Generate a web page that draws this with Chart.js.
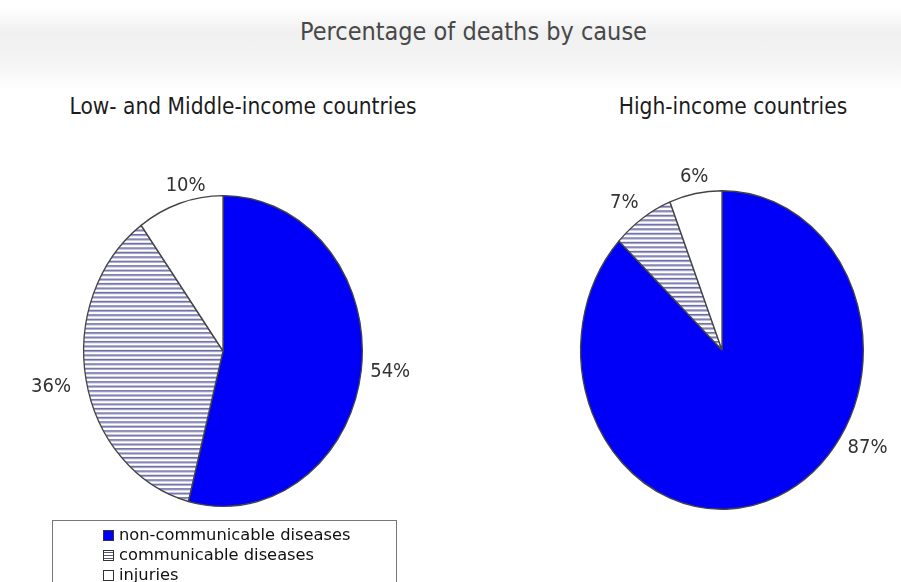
<!DOCTYPE html>
<html lang="en">
<head>
<meta charset="UTF-8">
<title>Percentage of deaths by cause</title>
<script src="https://cdn.jsdelivr.net/npm/chart.js"></script>
<style>
  body { margin: 0; width: 901px; height: 582px; overflow: hidden; background: #fff; position: relative;
         font-family: "DejaVu Sans Condensed", "DejaVu Sans", sans-serif; }
  .band { position: absolute; left: 0; top: 8px; width: 901px; height: 82px;
          background: linear-gradient(to bottom, rgba(255,255,255,0), #f0f0f0 30%, #f5f5f5 70%, rgba(255,255,255,0)); }
  h1 { position: absolute; top: 17px; left: 23px; width: 901px; margin: 0; text-align: center;
       font-weight: normal; font-size: 25px; color: #484848; }
  .sub { position: absolute; top: 93px; width: 460px; margin-left: -230px; text-align: center; font-size: 22.5px; color: #1c1c1c; }
  .pie { position: absolute; }
  .legend { position: absolute; left: 52px; top: 520px; width: 345px; height: 80px; border: 1.5px solid #777;
            box-sizing: border-box; padding: 4px 0 0 50px; font-family: "DejaVu Sans", sans-serif; font-size: 16.3px; color: #111; }
  .legend div { height: 20px; line-height: 20px; white-space: nowrap; }
  .legend span { display: inline-block; width: 9px; height: 9px; border: 1px solid #333; margin-right: 5px; vertical-align: -1px; }
</style>
</head>
<body>
  <div class="band"></div>
  <h1 id="title"></h1>
  <div class="sub" id="sub0" style="left:243px"></div>
  <div class="sub" id="sub1" style="left:733px"></div>

  <div class="pie" style="left:0; top:150px; width:446px; height:402px"><canvas id="lowChart"></canvas></div>
  <div class="pie" style="left:542px; top:150px; width:360px; height:400px"><canvas id="highChart"></canvas></div>

  <div class="legend" id="legend"></div>

  <script>
    const chartTitle = 'Percentage of deaths by cause';
    const panelTitles = ['Low- and Middle-income countries', 'High-income countries'];
    const categories = ['non-communicable diseases', 'communicable diseases', 'injuries'];
    const lowMiddleShares = [54, 36, 10];
    const highShares = [87, 7, 6];

    document.getElementById('title').textContent = chartTitle;
    document.getElementById('sub0').textContent = panelTitles[0];
    document.getElementById('sub1').textContent = panelTitles[1];

    // horizontal stripes for the communicable slice
    function stripes() {
      const c = document.createElement('canvas');
      c.width = 8; c.height = 4;
      const x = c.getContext('2d');
      x.fillStyle = '#fff'; x.fillRect(0, 0, 8, 4);
      x.fillStyle = '#6c6ca4'; x.fillRect(0, 0, 8, 1);
      x.fillStyle = '#a4a4cc'; x.fillRect(0, 1, 8, 1);
      return x.createPattern(c, 'repeat');
    }
    const fills = ['#0000f8', stripes(), '#ffffff'];

    // legend
    const swatchCss = [
      'background:#0000f8',
      'background:repeating-linear-gradient(to bottom,#fff 0,#fff 1px,#55558a 1px,#55558a 2px,#fff 2px,#fff 3px)',
      'background:#fff'
    ];
    document.getElementById('legend').innerHTML = categories
      .map((c, i) => '<div><span style="' + swatchCss[i] + '"></span>' + c + '</div>').join('');

    // pies in the picture are slightly taller than wide
    const ellipse = {
      id: 'ellipse',
      beforeDatasetsDraw(chart, args, opts) {
        const arc = chart.getDatasetMeta(0).data[0];
        const ctx = chart.ctx;
        ctx.save();
        ctx.translate(arc.x, arc.y);
        ctx.scale(1, opts.stretch);
        ctx.translate(-arc.x, -arc.y);
      },
      afterDatasetsDraw(chart) { chart.ctx.restore(); }
    };

    // percent labels just outside each slice (angle can be overridden, degrees from 12 o'clock)
    const pctLabels = {
      id: 'pctLabels',
      afterDraw(chart, args, opts) {
        const ctx = chart.ctx;
        const vals = chart.data.datasets[0].data;
        const stretch = chart.options.plugins.ellipse.stretch;
        ctx.save();
        ctx.font = '20px "DejaVu Sans Condensed", "DejaVu Sans", sans-serif';
        ctx.fillStyle = '#333';
        chart.getDatasetMeta(0).data.forEach((arc, i) => {
          let ang = (arc.startAngle + arc.endAngle) / 2;
          if (opts.angles[i] != null) ang = (opts.angles[i] - 90) * Math.PI / 180;
          const c = Math.cos(ang), s = Math.sin(ang);
          const r = arc.outerRadius;
          const pad = opts.pads[i];
          const x = arc.x + (r + pad) * c;
          const y = arc.y + (r * stretch + pad) * s;
          ctx.textAlign = c > 0.4 ? 'left' : c < -0.4 ? 'right' : 'center';
          ctx.textBaseline = s > 0.7 ? 'top' : s < -0.7 ? 'bottom' : 'middle';
          ctx.fillText(vals[i] + '%', x, y);
        });
        ctx.restore();
      }
    };

    function makePie(id, values, stretch, padding, angles, pads) {
      new Chart(document.getElementById(id), {
        type: 'pie',
        data: {
          labels: categories,
          datasets: [{
            data: values,
            backgroundColor: fills,
            borderColor: '#444',
            borderWidth: 1.3
          }]
        },
        options: {
          responsive: true,
          maintainAspectRatio: false,
          animation: false,
          events: [],
          layout: { padding: padding },
          plugins: {
            legend: { display: false },
            tooltip: { enabled: false },
            ellipse: { stretch: stretch },
            pctLabels: { pads: pads, angles: angles }
          }
        },
        plugins: [ellipse, pctLabels]
      });
    }

    makePie('lowChart', lowMiddleShares, 1.115, { left: 83, right: 83, top: 61, bottom: 61 }, [null, 258, 345], [9, 16, 5]);
    makePie('highChart', highShares, 1.127, { left: 38, right: 38, top: 58, bottom: 58 }, [125, null, null], [12, 7, 7]);
  </script>
</body>
</html>
